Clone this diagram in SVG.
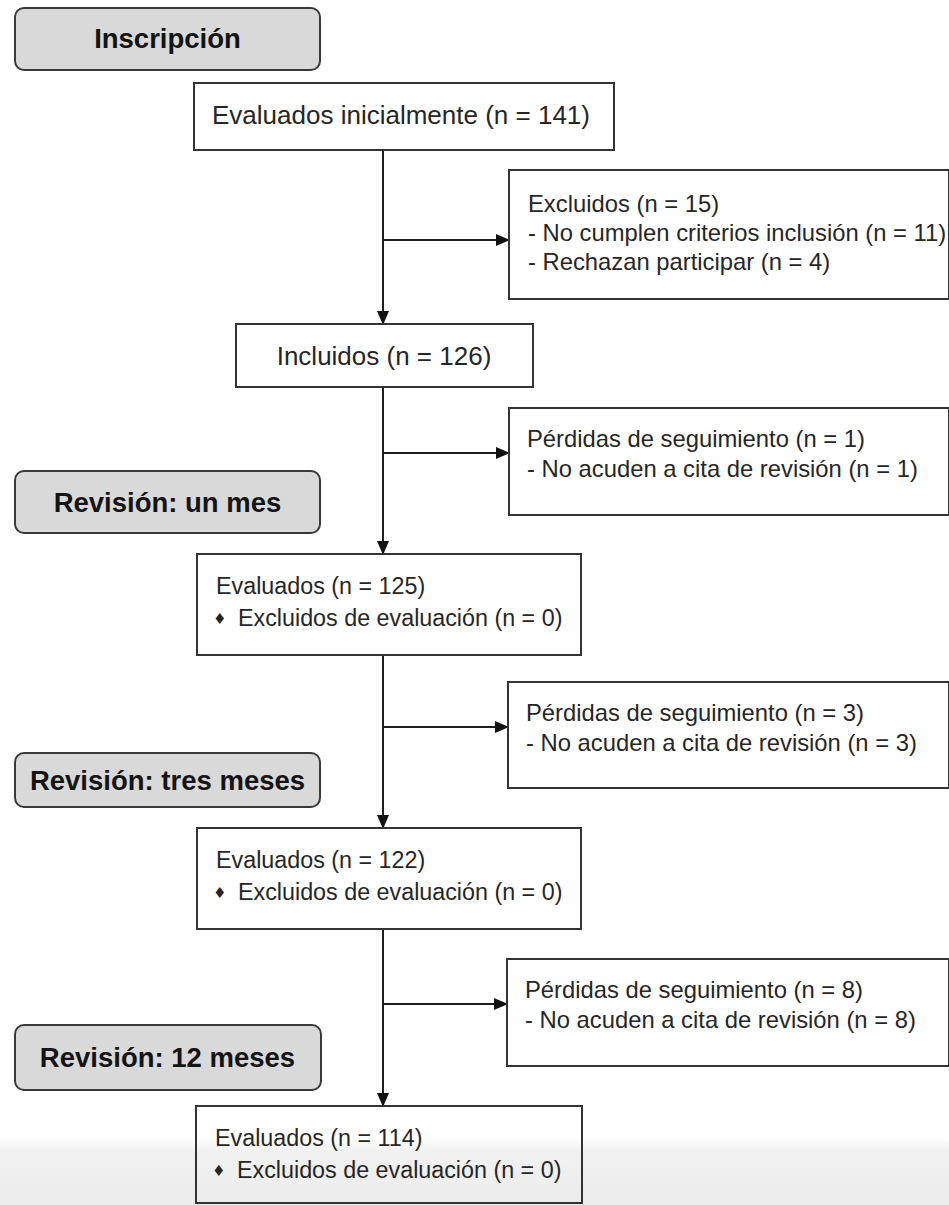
<svg xmlns="http://www.w3.org/2000/svg" width="949" height="1205" viewBox="0 0 949 1205">
<style>
.lbl rect{fill:#d9d9d9;stroke:#3a3a3a;stroke-width:2}
.lbl text{font-family:"Liberation Sans",Arial,sans-serif;font-weight:bold;font-size:27.5px;fill:#141414;text-anchor:middle}
.box rect{fill:#ffffff;stroke:#333333;stroke-width:2}
.box text{font-family:"Liberation Sans",Arial,sans-serif;fill:#262626}
.main text{font-size:26px}
.side text{font-size:23.8px}
.ev text{font-size:23.3px}
.ev text.dia{font-family:"DejaVu Sans",sans-serif;font-size:15px}
.conn line{stroke:#1e1e1e;stroke-width:2}
</style>
<defs>
<marker id="ah" markerWidth="14" markerHeight="12" refX="13" refY="6" orient="auto" markerUnits="userSpaceOnUse">
<path d="M0,0 L14,6 L0,12 Z" fill="#111"/>
</marker>
<linearGradient id="fade" x1="0" y1="0" x2="0" y2="1">
<stop offset="0" stop-color="#ffffff"/>
<stop offset="0.2" stop-color="#f1f1f1"/>
<stop offset="1" stop-color="#ececec"/>
</linearGradient>
</defs>

<rect x="0" y="1138" width="949" height="67" fill="url(#fade)"/>

<g id="conn" class="conn">
<line x1="383" y1="150" x2="383" y2="324" marker-end="url(#ah)"/>
<line x1="383" y1="240" x2="509" y2="240" marker-end="url(#ah)"/>
<line x1="383" y1="387" x2="383" y2="554" marker-end="url(#ah)"/>
<line x1="383" y1="453" x2="509" y2="453" marker-end="url(#ah)"/>
<line x1="383" y1="655" x2="383" y2="828" marker-end="url(#ah)"/>
<line x1="383" y1="727" x2="508" y2="727" marker-end="url(#ah)"/>
<line x1="383" y1="929" x2="383" y2="1106" marker-end="url(#ah)"/>
<line x1="383" y1="1004" x2="507" y2="1004" marker-end="url(#ah)"/>
</g>

<g id="lbl-inscripcion" class="lbl">
<rect x="15" y="8" width="305" height="62" rx="9"/>
<text x="167.5" y="48">Inscripción</text>
</g>
<g id="lbl-un-mes" class="lbl">
<rect x="15" y="471" width="305" height="62" rx="9"/>
<text x="167.5" y="511.5">Revisión: un mes</text>
</g>
<g id="lbl-tres-meses" class="lbl">
<rect x="15" y="753" width="305" height="54" rx="9"/>
<text x="167.5" y="789.5">Revisión: tres meses</text>
</g>
<g id="lbl-12-meses" class="lbl">
<rect x="15" y="1025" width="306" height="65" rx="9"/>
<text x="167.5" y="1067">Revisión: 12 meses</text>
</g>

<g id="evaluados-inicial" class="box main">
<rect x="194" y="83" width="420" height="67"/>
<text x="401" y="124" text-anchor="middle">Evaluados inicialmente (n = 141)</text>
</g>
<g id="excluidos" class="box side">
<rect x="509" y="170" width="440" height="129"/>
<text x="528" y="212">Excluidos (n = 15)</text>
<text x="528" y="241">- No cumplen criterios inclusión (n = 11)</text>
<text x="528" y="270">- Rechazan participar (n = 4)</text>
</g>
<g id="incluidos" class="box main">
<rect x="236" y="324" width="297" height="63"/>
<text x="384" y="365" text-anchor="middle">Incluidos (n = 126)</text>
</g>
<g id="perdidas-1" class="box side">
<rect x="509" y="408" width="440" height="107"/>
<text x="527" y="447">Pérdidas de seguimiento (n = 1)</text>
<text x="527" y="477">- No acuden a cita de revisión (n = 1)</text>
</g>
<g id="evaluados-125" class="box ev">
<rect x="197" y="554" width="384" height="101"/>
<text x="216" y="594">Evaluados (n = 125)</text>
<text x="213" y="624" class="dia">♦</text>
<text x="238" y="626">Excluidos de evaluación (n = 0)</text>
</g>
<g id="perdidas-3" class="box side">
<rect x="508" y="682" width="441" height="106"/>
<text x="526" y="721">Pérdidas de seguimiento (n = 3)</text>
<text x="526" y="751">- No acuden a cita de revisión (n = 3)</text>
</g>
<g id="evaluados-122" class="box ev">
<rect x="197" y="828" width="384" height="101"/>
<text x="216" y="868">Evaluados (n = 122)</text>
<text x="213" y="898" class="dia">♦</text>
<text x="238" y="900">Excluidos de evaluación (n = 0)</text>
</g>
<g id="perdidas-8" class="box side">
<rect x="507" y="959" width="442" height="107"/>
<text x="525" y="998">Pérdidas de seguimiento (n = 8)</text>
<text x="525" y="1028">- No acuden a cita de revisión (n = 8)</text>
</g>
<g id="evaluados-114" class="box ev">
<rect x="196" y="1106" width="386" height="97" style="fill:none"/>
<text x="215" y="1146">Evaluados (n = 114)</text>
<text x="212" y="1176" class="dia">♦</text>
<text x="237" y="1178">Excluidos de evaluación (n = 0)</text>
</g>
</svg>
